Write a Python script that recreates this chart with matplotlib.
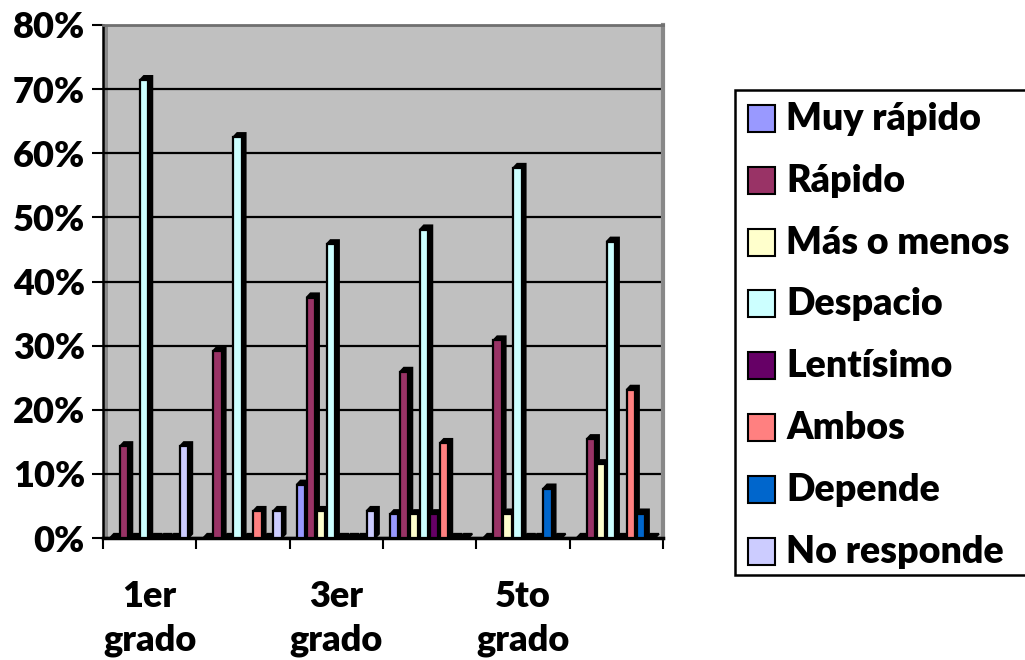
import numpy as np
from matplotlib import pyplot as plt
from matplotlib.patches import Rectangle, Polygon
from matplotlib.ticker import PercentFormatter

plt.rcParams['font.family'] = ['Lato', 'DejaVu Sans']
plt.rcParams['font.weight'] = 'heavy'

grades = ['1er\ngrado', '2do\ngrado', '3er\ngrado', '4to\ngrado', '5to\ngrado', '6to\ngrado']
series = ['Muy rápido', 'Rápido', 'Más o menos', 'Despacio',
          'Lentísimo', 'Ambos', 'Depende', 'No responde']
colors = ['#9999FF', '#993366', '#FFFFCC', '#CCFFFF',
          '#660066', '#FF8080', '#0066CC', '#CCCCFF']

# share of answers per grade (fractions)
muy_rapido = [0.0, 0.0, 0.083, 0.037, 0.0, 0.0]
rapido = [0.143, 0.292, 0.375, 0.259, 0.308, 0.154]
mas_o_menos = [0.0, 0.0, 0.042, 0.037, 0.038, 0.115]
despacio = [0.714, 0.625, 0.458, 0.481, 0.577, 0.462]
lentisimo = [0.0, 0.0, 0.0, 0.037, 0.0, 0.0]
ambos = [0.0, 0.042, 0.0, 0.148, 0.0, 0.231]
depende = [0.0, 0.0, 0.0, 0.0, 0.077, 0.038]
no_responde = [0.143, 0.042, 0.042, 0.0, 0.0, 0.0]

values = [muy_rapido, rapido, mas_o_menos, despacio,
          lentisimo, ambos, depende, no_responde]

W, H = 1025, 660
fig = plt.figure(figsize=(W / 100, H / 100), dpi=100)


def px(x, y):
    return x / W, 1 - y / H


ax = fig.add_axes([103 / W, 1 - 538 / H, 560 / W, 513 / H])
ax.set_xlim(0, len(grades))
ax.set_ylim(0, 0.8)
ax.set_facecolor('#C0C0C0')

# bar geometry in group units, fake 3d depth
offset, pitch, face = 0.075, 0.107, 0.09
dx, dy = 0.042, 0.0065

for g in range(len(grades)):
    for k, (vals, col) in enumerate(zip(values, colors)):
        x0 = g + offset + k * pitch
        h = vals[g]
        side = Polygon([(x0, h), (x0 + dx, h + dy), (x0 + face + dx, h + dy),
                        (x0 + face + dx, dy), (x0 + face, 0), (x0 + face, h)],
                       closed=True, fc='black', ec='black', lw=1.4, zorder=3 + k * 0.01)
        ax.add_patch(side)
        ax.add_patch(Rectangle((x0, 0), face, h, fc=col, ec='black', lw=1.6,
                               zorder=3 + k * 0.01 + 0.005))

ax.set_yticks(np.arange(0, 0.81, 0.1))
ax.yaxis.set_major_formatter(PercentFormatter(1.0, decimals=0))
ax.grid(axis='y', color='black', lw=1.6, zorder=1)
ax.set_axisbelow(True)

ax.set_xticks(np.arange(0, len(grades) + 1))
ax.set_xticklabels([])
ax.set_xticks(np.arange(len(grades)) + 0.5, minor=True)
ax.set_xticklabels([lab if i % 2 == 0 else '' for i, lab in enumerate(grades)],
                   minor=True, fontsize=26, fontweight='heavy', linespacing=1.4)
ax.tick_params(axis='x', which='minor', length=0, pad=30)
ax.tick_params(axis='x', which='major', length=8, width=1.5, direction='out')
ax.tick_params(axis='y', length=8, width=1.5, labelsize=26, pad=5)
for lab in ax.get_yticklabels():
    lab.set_fontweight('heavy')

ax.spines['left'].set_linewidth(1.8)
ax.spines['bottom'].set_linewidth(2.5)
ax.spines['top'].set_color('#707070')
ax.spines['top'].set_linewidth(2)
ax.spines['right'].set_color('#888888')
ax.spines['right'].set_linewidth(3)

# side wall strip
ax.add_patch(Rectangle((0, 0), 5 / 560, 1, transform=ax.transAxes,
                       fc='#8A8A8A', ec='none', zorder=0.5))

# legend box, drawn by hand so the frame runs off the right edge
fig.patches.append(Rectangle(px(735, 575), 400 / W, 485 / H, transform=fig.transFigure,
                             fc='white', ec='black', lw=1.8, figure=fig))
for i, (name, col) in enumerate(zip(series, colors)):
    yc = 119 + i * 61.8
    fig.patches.append(Rectangle(px(748, yc + 13), 27 / W, 27 / H,
                                 transform=fig.transFigure, fc=col, ec='black',
                                 lw=1.5, figure=fig))
    fig.text(*px(786, yc), name, fontsize=27, fontweight='heavy',
             va='center', ha='left')

fig.savefig('out.png', dpi=100)
